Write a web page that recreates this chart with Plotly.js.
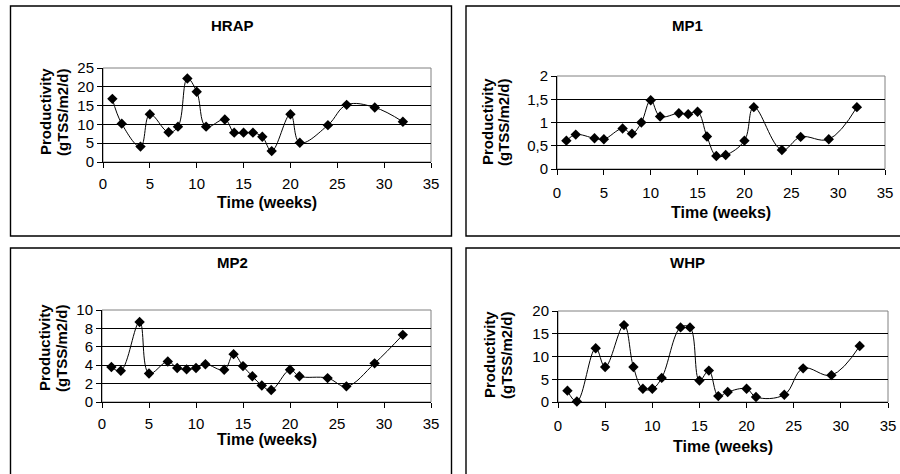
<!DOCTYPE html>
<html>
<head>
<meta charset="utf-8">
<script src="https://cdn.plot.ly/plotly-3.0.1.min.js"></script>
<style>html,body{margin:0;padding:0;background:#fff;}#chart{width:900px;height:474px;}</style>
</head>
<body>
<div id="chart"></div>
<script>
// ---- data ----
const weeks = [1,2,4,5,7,8,9,10,11,13,14,15,16,17,18,20,21,24,26,29,32];
const hrapValues = [16.8,10.2,4.1,12.7,7.9,9.4,22.2,18.7,9.4,11.3,7.8,7.8,7.8,6.7,2.9,12.7,5.1,9.8,15.2,14.5,10.7];
const mp1Values  = [0.61,0.74,0.66,0.64,0.87,0.76,1.0,1.48,1.13,1.2,1.18,1.23,0.7,0.28,0.3,0.61,1.33,0.41,0.69,0.64,1.33];
const mp2Values  = [3.8,3.4,8.7,3.1,4.4,3.7,3.55,3.7,4.1,3.5,5.2,3.9,2.8,1.8,1.3,3.5,2.8,2.6,1.7,4.2,7.3];
const whpValues  = [2.5,0.1,11.8,7.7,16.9,7.7,2.9,2.9,5.3,16.4,16.4,4.7,6.9,1.3,2.2,2.9,1.1,1.6,7.4,5.9,12.3];
const panelTitles = ["HRAP","MP1","MP2","WHP"];
const xTicks = [0,5,10,15,20,25,30,35];
const hrapTicks = [0,5,10,15,20,25];
const mp1Ticks = [0,0.5,1,1.5,2];
const mp1TickText = ["0","0,5","1","1,5","2"];
const mp2Ticks = [0,2,4,6,8,10];
const whpTicks = [0,5,10,15,20];
const xTitle = "Time (weeks)";
const yTitle1 = "Productivity";
const yTitle2 = "(gTSS/m2/d)";

// ---- layout helpers (pixel -> paper) ----
const W = 900, H = 474;
const px = v => v / W;
const py = v => 1 - v / H;
const FONT = "Liberation Sans, Arial, sans-serif";

const panels = [
  {vals: hrapValues, xd:[103,431], yd:[162,68], yr:[0,25], tv:hrapTicks, tt:null, so:3,
   title:[232,25], xt:[267,202], yt:[45,62,112], box:[10.5,6,451.5,236]},
  {vals: mp1Values, xd:[557,885], yd:[169,76], yr:[0,2], tv:mp1Ticks, tt:mp1TickText, so:5,
   title:[687,25], xt:[721,213], yt:[488,504,122], box:[466,6,910,236]},
  {vals: mp2Values, xd:[102,431], yd:[402,310], yr:[0,10], tv:mp2Ticks, tt:null, so:3,
   title:[232,262], xt:[267,439], yt:[44,61,348], box:[10.5,248,451.5,490]},
  {vals: whpValues, xd:[558,888], yd:[402,311], yr:[0,20], tv:whpTicks, tt:null, so:5,
   title:[687,262], xt:[723,446], yt:[489,506,355], box:[466,248,910,490]}
];

const data = [];
const layout = {
  width: W, height: H,
  margin: {l:0, r:0, t:0, b:0},
  paper_bgcolor: "#fff", plot_bgcolor: "#fff",
  showlegend: false,
  font: {family: FONT, color: "#000"},
  shapes: [], annotations: []
};

panels.forEach((p, i) => {
  const n = i === 0 ? "" : String(i + 1);
  data.push({
    x: weeks, y: p.vals, type: "scatter", mode: "lines+markers",
    xaxis: "x" + n, yaxis: "y" + n,
    line: {color: "#000", width: 1, shape: "spline", smoothing: 1.1},
    marker: {symbol: "diamond", size: 8, color: "#000"},
    cliponaxis: false
  });
  layout["xaxis" + n] = {
    domain: [px(p.xd[0]), px(p.xd[1])], anchor: "y" + n,
    range: [0, 35], tickvals: xTicks, showgrid: false, zeroline: false,
    showline: true, linecolor: "#000", linewidth: 1,
    ticks: "outside", ticklen: 5, tickcolor: "#000", tickwidth: 1,
    ticklabelstandoff: p.so,
    tickfont: {family: FONT, size: 15, color: "#000"}, fixedrange: true
  };
  const ya = {
    domain: [py(p.yd[0]), py(p.yd[1])], anchor: "x" + n,
    range: p.yr, tickvals: p.tv, showgrid: true, gridcolor: "#000", gridwidth: 1,
    zeroline: false, showline: true, linecolor: "#000", linewidth: 1,
    ticks: "outside", ticklen: 5, tickcolor: "#000", tickwidth: 1,
    tickfont: {family: FONT, size: 15, color: "#000"}, fixedrange: true
  };
  if (p.tt) ya.ticktext = p.tt;
  layout["yaxis" + n] = ya;

  // plot-area border (gray)
  layout.shapes.push({type: "rect", xref: "x" + n + " domain", yref: "y" + n + " domain",
    x0: 0, x1: 1, y0: 0, y1: 1, line: {color: "#808080", width: 1}, layer: "below"});
  // chart box
  layout.shapes.push({type: "rect", xref: "paper", yref: "paper",
    x0: px(p.box[0]), x1: px(p.box[2]), y0: py(p.box[3]), y1: py(p.box[1]),
    line: {color: "#000", width: 1.4}});

  layout.annotations.push({text: "<b>" + panelTitles[i] + "</b>", xref: "paper", yref: "paper",
    x: px(p.title[0]), y: py(p.title[1]), xanchor: "center", yanchor: "middle", showarrow: false,
    font: {family: FONT, size: 15, color: "#000"}});
  layout.annotations.push({text: "<b>" + xTitle + "</b>", xref: "paper", yref: "paper",
    x: px(p.xt[0]), y: py(p.xt[1]), xanchor: "center", yanchor: "middle", showarrow: false,
    font: {family: FONT, size: 16, color: "#000"}});
  layout.annotations.push({text: "<b>" + yTitle1 + "</b>", xref: "paper", yref: "paper",
    x: px(p.yt[0]), y: py(p.yt[2]), xanchor: "center", yanchor: "middle", showarrow: false,
    textangle: -90, font: {family: FONT, size: 15, color: "#000"}});
  layout.annotations.push({text: "<b>" + yTitle2 + "</b>", xref: "paper", yref: "paper",
    x: px(p.yt[1]), y: py(p.yt[2]), xanchor: "center", yanchor: "middle", showarrow: false,
    textangle: -90, font: {family: FONT, size: 15, color: "#000"}});
});

Plotly.newPlot("chart", data, layout, {staticPlot: true, displayModeBar: false});
</script>
</body>
</html>
